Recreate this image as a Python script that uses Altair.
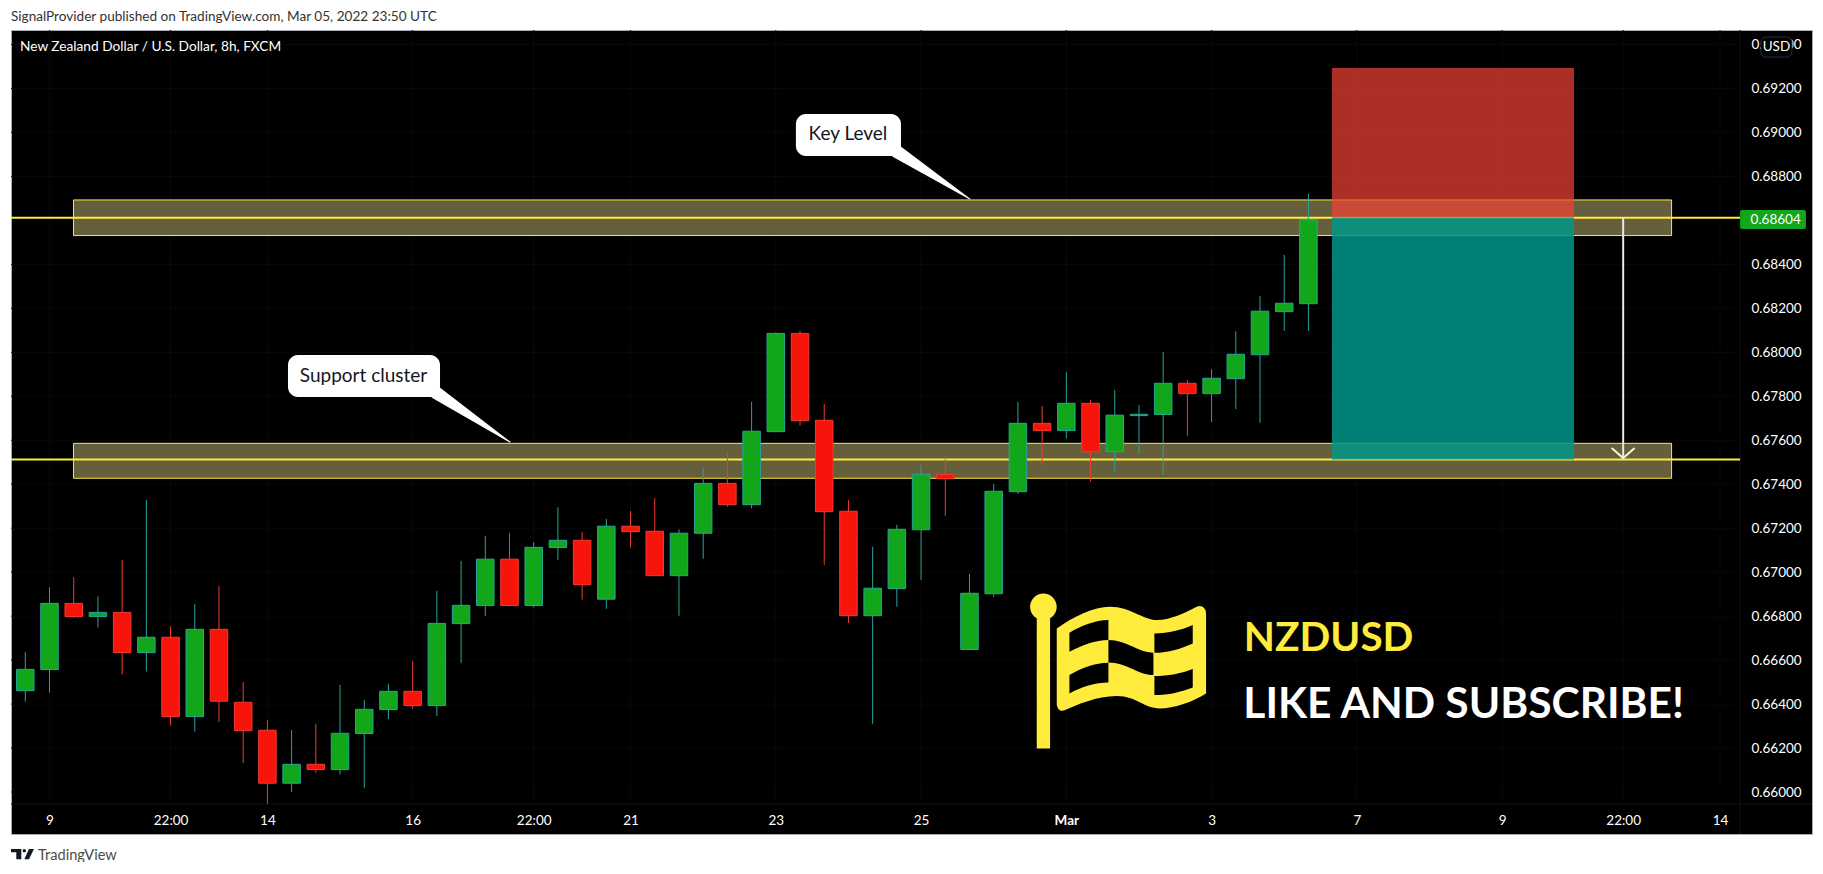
import altair as alt
import pandas as pd

# ---- candles
index = list(range(54))
up = [1,1,0,1,0,1,0,1,0,0,
      0,1,0,1,1,1,0,1,1,1,
      0,1,1,0,1,0,0,1,1,0,
      1,1,0,0,0,1,1,1,0,1,
      1,1,0,1,0,1,1,1,0,1,
      1,1,1,1]
wick_hi = [.66636,.66931,.66977,.66890,.67056,.67328,.66754,.66854,.66936,.66501,
           .66328,.66282,.66310,.66487,.66419,.66492,.66596,.66915,.67051,.67165,
           .67178,.67137,.67295,.67183,.67242,.67278,.67337,.67195,.67472,.67547,
           .67774,.68091,.68097,.67765,.67328,.67115,.67215,.67488,.67515,.66992,
           .67401,.67774,.67756,.67911,.67783,.67829,.67761,.68002,.67874,.67923,
           .68096,.68256,.68443,.68720]
body_top = [.66558,.66858,.66858,.66817,.66817,.66704,.66704,.66740,.66740,.66408,
            .66281,.66126,.66126,.66267,.66376,.66458,.66458,.66767,.66849,.67059,
            .67059,.67113,.67145,.67145,.67209,.67209,.67186,.67177,.67404,.67404,
            .67641,.68086,.68086,.67691,.67277,.66927,.67195,.67445,.67445,.66904,
            .67368,.67677,.67677,.67768,.67768,.67714,.67718,.67859,.67859,.67882,
            .67991,.68187,.68223,.68603]
body_bot = [.66461,.66557,.66798,.66798,.66634,.66634,.66343,.66343,.66413,.66279,
            .66040,.66040,.66102,.66102,.66266,.66375,.66393,.66393,.66766,.66848,
            .66848,.66848,.67112,.66943,.66877,.67184,.66984,.66984,.67177,.67307,
            .67307,.67639,.67689,.67275,.66802,.66802,.66925,.67193,.67425,.66648,
            .66902,.67366,.67644,.67644,.67548,.67548,.67712,.67717,.67812,.67812,
            .67880,.67989,.68185,.68221]
wick_lo = [.66411,.66452,.66792,.66748,.66534,.66548,.66302,.66275,.66319,.66132,
           .65946,.66000,.66087,.66079,.66019,.66332,.66378,.66346,.66587,.66801,
           .66848,.66839,.67056,.66875,.66833,.67112,.66984,.66802,.67061,.67298,
           .67289,.67639,.67667,.67033,.66769,.66310,.66842,.66964,.67256,.66648,
           .66887,.67356,.67488,.67607,.67412,.67460,.67538,.67442,.67620,.67683,
           .67742,.67679,.68097,.68097]

# ---- axes
price_ticks = [0.660,0.662,0.664,0.666,0.668,0.670,0.672,0.674,0.676,0.678,0.680,0.682,0.684,0.688,0.690,0.692,0.694]
time_ticks = [1,6,10,16,21,25,31,37,43,49,55,61,66,70]
time_labels = ["9","22:00","14","16","22:00","21","23","25","Mar","3","7","9","22:00","14"]
x_domain = [-0.5907, 73.80]
y_domain = [0.65809, 0.69466]
pane_right = 70.83
pane_bottom = 0.65945

# ---- annotations in data units
bands = pd.DataFrame({"x":[1.99,1.99],"x2":[68.0,68.0],"y":[.68693,.67586],"y2":[.68531,.67427]})
levels = pd.DataFrame({"x":[x_domain[0]]*2,"x2":[pane_right]*2,"y":[.68612,.67512]})
red_zone = pd.DataFrame({"x":[53.97],"x2":[63.97],"y":[.69293],"y2":[.68612]})
green_zone = pd.DataFrame({"x":[53.97],"x2":[63.97],"y":[.68612],"y2":[.67512]})
arrow_shaft = pd.DataFrame({"x":[66,66],"y":[.68612,.67519]})
arrow_head = pd.DataFrame({"x":[65.525,66,66.475],"y":[.67565,.67519,.67565],"o":[0,1,2]})
bubbles = pd.DataFrame({"x":[10.85,31.83],"x2":[17.13,36.17],"y":[.67988,.69084],"y2":[.67797,.68893]})
tail1 = pd.DataFrame({"x":[16.96,20.02],"y":[.67817,.67592],"w":[13,0]})
tail2 = pd.DataFrame({"x":[35.99,39.02],"y":[.68913,.68697],"w":[13,0]})

df = pd.DataFrame({"x":index,"up":up,"top":body_top,"bot":body_bot,"hi":wick_hi,"lo":wick_lo})
df["dir"] = df["up"].map({1:"up",0:"down"})

expr = "{" + ",".join(f"'{t}':'{l}'" for t,l in zip(time_ticks,time_labels)) + "}[toString(datum.value)]"
x_axis = alt.Axis(values=time_ticks, labelExpr=expr, orient="bottom", offset=-30, domain=False, ticks=False, grid=False,
                  labelColor="#ffffff", labelFont="Lato", labelFontSize=13.5, labelPadding=9, labelOverlap=False,
                  labelFlush=False, labelBound=False, title=None,
                  labelFontWeight=alt.condition("datum.value == 43", alt.value("bold"), alt.value("normal")))
y_axis = alt.Axis(values=price_ticks, format=".5f", orient="right", offset=-63, domain=False, ticks=False, grid=False,
                  labelColor="#ffffff", labelFont="Lato", labelFontSize=13.5, labelPadding=2, labelOverlap=False,
                  labelFlush=False, labelBound=False, title=None)
x_scale = alt.Scale(domain=x_domain, nice=False, zero=False, padding=0)
y_scale = alt.Scale(domain=y_domain, nice=False, zero=False, padding=0)
X = alt.X("x:Q", scale=x_scale, axis=x_axis)
Y = alt.Y("y:Q", scale=y_scale, axis=y_axis)

color_scale = alt.Scale(domain=["up","down"], range=["#12a61a","#f7140a"])
stroke_scale = alt.Scale(domain=["up","down"], range=["#26a69a","#f23b30"])

wicks = alt.Chart(df).mark_rule(strokeWidth=1).encode(
    x=X, y=alt.Y("hi:Q", scale=y_scale, axis=y_axis), y2="lo:Q",
    color=alt.Color("dir:N", scale=stroke_scale, legend=None))
bodies = alt.Chart(df).mark_bar(size=17.5, strokeWidth=1).encode(
    x=X, y=alt.Y("top:Q", scale=y_scale, axis=y_axis), y2="bot:Q",
    fill=alt.Fill("dir:N", scale=color_scale, legend=None),
    stroke=alt.Stroke("dir:N", scale=stroke_scale, legend=None))

def rects(data, **kw):
    return alt.Chart(data).mark_rect(**kw).encode(x=X, x2="x2:Q", y=Y, y2="y2:Q")

def label(text, x, y, size, color, weight="normal", align="left", font="Lato"):
    d = pd.DataFrame({"x":[x],"y":[y],"t":[text]})
    return alt.Chart(d).mark_text(fontSize=size, color=color, fontWeight=weight, align=align, baseline="middle", font=font).encode(x=X, y=Y, text="t:N")

# faint grid
grid_v = alt.Chart(pd.DataFrame({"x":time_ticks,"y":[y_domain[1]]*len(time_ticks),"y2":[pane_bottom]*len(time_ticks)})).mark_rule(color="#090909").encode(x=X, y=Y, y2="y2:Q")
grid_h = alt.Chart(pd.DataFrame({"y":price_ticks,"x":[x_domain[0]]*len(price_ticks),"x2":[pane_right]*len(price_ticks)})).mark_rule(color="#090909").encode(x=X, x2="x2:Q", y=Y)
sep_v = alt.Chart(pd.DataFrame({"x":[pane_right],"y":[y_domain[0]],"y2":[y_domain[1]]})).mark_rule(color="#131313").encode(x=X, y=Y, y2="y2:Q")
sep_h = alt.Chart(pd.DataFrame({"y":[pane_bottom],"x":[x_domain[0]],"x2":[x_domain[1]]})).mark_rule(color="#131313").encode(x=X, x2="x2:Q", y=Y)

band_layer = rects(bands, fill="#665f3b", stroke="#ffeb3b", strokeWidth=1)
level_layer = alt.Chart(levels).mark_rule(color="#ffeb3b", strokeWidth=2).encode(x=X, x2="x2:Q", y=Y)
red_layer = rects(red_zone, fill="#f44336", fillOpacity=0.7)
green_layer = rects(green_zone, fill="#009688", fillOpacity=0.85)
shaft = alt.Chart(arrow_shaft).mark_line(color="#e8e8e8", strokeWidth=2).encode(x=X, y=Y)
head = alt.Chart(arrow_head).mark_line(color="#f5f3d8", strokeWidth=2).encode(x=X, y=Y, order="o:Q")

def tail(data):
    return alt.Chart(data).mark_trail(color="#ffffff").encode(x=X, y=Y, size=alt.Size("w:Q", scale=None, legend=None))
bubble_layer = rects(bubbles, fill="#ffffff", cornerRadius=10)

flag_path = ("M -190 -140 C -140 -175 -80 -205 -30 -205 C 30 -205 70 -165 110 -165 C 150 -165 190 -185 230 -205 "
             "C 245 -212 258 -200 258 -185 L 258 55 C 220 80 160 100 120 100 C 70 100 50 63 -10 63 "
             "C -70 63 -130 90 -165 105 C -180 112 -190 100 -190 85 Z "
             "M -152 -127 L -152 -70 C -110 -90 -75 -105 -35 -105 L -35 -165 C -75 -165 -115 -148 -152 -127 Z "
             "M -35 -105 L -35 -38 C 20 -38 55 0 100 0 L 100 -67 C 55 -67 20 -105 -35 -105 Z "
             "M 103 -125 L 103 -67 C 145 -67 185 -80 218 -95 L 218 -150 C 185 -135 145 -125 103 -125 Z "
             "M -152 0 L -152 55 C -115 35 -75 22 -35 22 L -35 -37 C -75 -37 -115 -22 -152 0 Z "
             "M 103 3 L 103 60 C 145 60 185 50 218 37 L 218 -18 C 185 -5 145 3 103 3 Z "
             "M -250 -195 L -210 -195 L -210 220 L -250 220 Z "
             "M -270 -205 A 40 40 0 1 1 -190 -205 A 40 40 0 1 1 -270 -205 Z")
flag = alt.Chart(pd.DataFrame({"x":[45.22],"y":[.66532]})).mark_point(shape=flag_path, size=4/9, filled=True, fill="#ffeb3b", opacity=1, strokeWidth=0).encode(x=X, y=Y)
logo_path = ("M -34 -15 L -3 -15 L -3 16 L -18 16 L -18 -5 L -34 -5 Z "
             "M 1 -10 A 5 5 0 1 1 11 -10 A 5 5 0 1 1 1 -10 Z "
             "M 20 -15 L 35 -15 L 20 16 L 6 16 Z")
logo = alt.Chart(pd.DataFrame({"x":[-0.124],"y":[.65718]})).mark_point(shape=logo_path, size=4/9, filled=True, fill="#131722", opacity=1, strokeWidth=0).encode(x=X, y=Y)

tag = rects(pd.DataFrame({"x":[70.83],"x2":[73.55],"y":[.68647],"y2":[.68561]}), fill="#12a61a", cornerRadius=2)
chip = rects(pd.DataFrame({"x":[71.69],"x2":[72.97],"y":[.69434],"y2":[.69343]}), fill="#000000", stroke="#2a2e39", strokeWidth=1, cornerRadius=5)

chart = alt.layer(
    grid_v, grid_h, sep_v, sep_h,
    band_layer, level_layer, red_layer, green_layer,
    wicks, bodies,
    shaft, head,
    tail(tail1), tail(tail2), bubble_layer,
    flag, logo, tag, chip,
    label("Support cluster", 13.97, .67890, 19, "#131722", align="center"),
    label("Key Level", 33.98, .68991, 19, "#131722", align="center"),
    label("NZDUSD", 50.33, .66696, 40.5, "#ffeb3b", weight="bold"),
    label("LIKE AND SUBSCRIBE!", 50.31, .66398, 42.5, "#ffffff", weight="bold"),
    label("0.68604", 72.3, .68600, 13.5, "#ffffff", align="center"),
    label("USD", 72.33, .69389, 13.5, "#ffffff", align="center"),
    label("New Zealand Dollar / U.S. Dollar, 8h, FXCM", -0.219, .69389, 13.7, "#ffffff"),
    label("SignalProvider published on TradingView.com, Mar 05, 2022 23:50 UTC", -0.591, .69525, 13.6, "#333333"),
    label("TradingView", 0.525, .65709, 14.6, "#4a4a4a"),
).resolve_scale(fill="independent", stroke="independent", color="independent").properties(
    width=1801, height=804, background="#ffffff",
    padding={"left":3,"top":22,"right":3,"bottom":28},
    autosize=alt.AutoSizeParams(type="none")
).configure_view(fill="#000000", stroke="#a8abb4", strokeWidth=1)

chart.save("out.html", embed_options={"renderer": "svg", "actions": False})
